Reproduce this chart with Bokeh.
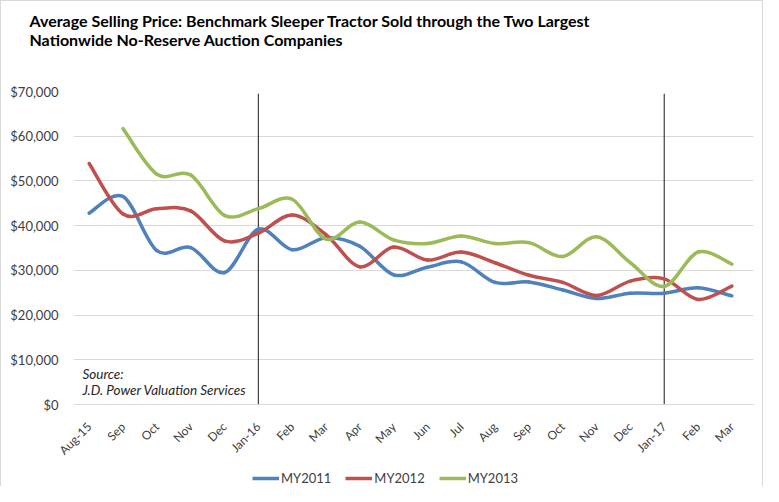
import numpy as np
from bokeh.plotting import figure
from bokeh.layouts import column
from bokeh.models import (FixedTicker, NumeralTickFormatter, Legend, LegendItem,
                          Label, ColumnDataSource, Range1d)
from bokeh.embed import file_html
from bokeh.resources import INLINE

months = ["Aug-15", "Sep", "Oct", "Nov", "Dec", "Jan-16", "Feb", "Mar", "Apr", "May",
          "Jun", "Jul", "Aug", "Sep", "Oct", "Nov", "Dec", "Jan-17", "Feb", "Mar"]
my2011 = [42800, 46500, 34400, 35100, 29500, 39200, 34600, 37300, 35400, 29000,
          30700, 31900, 27300, 27400, 25600, 23700, 24900, 24900, 26100, 24300]
my2012 = [53900, 42600, 43800, 43300, 36600, 38300, 42400, 38000, 30800, 35200,
          32300, 34100, 31700, 28900, 27300, 24400, 27600, 28100, 23500, 26500]
my2013 = [None, 61700, 51500, 51300, 42300, 43800, 45900, 37000, 40800, 36800,
          36000, 37700, 36000, 36200, 33100, 37500, 31700, 26400, 34100, 31400]
series_names = ["MY2011", "MY2012", "MY2013"]
series_colors = ["#4f81bd", "#c0504d", "#9bbb59"]
marker_months = ["Jan-16", "Jan-17"]
y_ticks = list(range(0, 70001, 10000))
title_lines = ["Average Selling Price: Benchmark Sleeper Tractor Sold through the Two Largest",
               "Nationwide No-Reserve Auction Companies"]
source_lines = ["Source:", "J.D. Power Valuation Services"]

FONT = "Lato"
W = 761


def smooth_source(vals):
    """Bezier segments (Excel-style smoothed line) through the data points."""
    xs = [i for i, v in enumerate(vals) if v is not None]
    ys = [v for v in vals if v is not None]
    n = len(xs)
    d = {k: [] for k in ["x0", "y0", "x1", "y1", "cx0", "cy0", "cx1", "cy1"]}
    for i in range(n - 1):
        a = max(i - 1, 0)
        b = min(i + 2, n - 1)
        d["x0"].append(xs[i]); d["y0"].append(ys[i])
        d["x1"].append(xs[i + 1]); d["y1"].append(ys[i + 1])
        d["cx0"].append(xs[i] + (xs[i + 1] - xs[a]) / 6.0)
        d["cy0"].append(ys[i] + (ys[i + 1] - ys[a]) / 6.0)
        d["cx1"].append(xs[i + 1] - (xs[b] - xs[i]) / 6.0)
        d["cy1"].append(ys[i + 1] - (ys[b] - ys[i]) / 6.0)
    return ColumnDataSource(d)


def bare(fig):
    fig.outline_line_color = None
    fig.background_fill_color = "white"
    fig.border_fill_color = "white"
    fig.xgrid.grid_line_color = None
    fig.ygrid.grid_line_color = None
    return fig


# ---------------- header (title) ----------------
head = bare(figure(width=W, height=80, output_backend="svg", toolbar_location=None,
                   x_range=Range1d(0, 1), y_range=Range1d(0, 1),
                   x_axis_location=None, y_axis_location=None, min_border=0))
head.title.text = "\n".join(title_lines)
head.title.text_font = FONT
head.title.text_font_size = "16px"
head.title.text_font_style = "bold"
head.title.text_color = "black"
head.title.align = "left"
head.title.offset = -44
head.title.standoff = 14

# ---------------- main chart ----------------
p = bare(figure(width=W, height=384, output_backend="svg", toolbar_location=None,
                x_range=Range1d(-0.464, 19.64), y_range=Range1d(0, 70000),
                min_border_left=72, min_border_right=9, min_border_top=10,
                min_border_bottom=61))
p.ygrid.grid_line_color = "#d9d9d9"
p.ygrid.grid_line_width = 1

yax = p.yaxis[0]
yax.ticker = FixedTicker(ticks=y_ticks)
yax.formatter = NumeralTickFormatter(format="$0,0")
yax.axis_line_color = None
yax.major_tick_line_color = None
yax.minor_tick_line_color = None
yax.major_label_standoff = 9
yax.major_label_text_font = FONT
yax.major_label_text_font_size = "13px"
yax.major_label_text_color = "#404040"

xax = p.xaxis[0]
xax.ticker = FixedTicker(ticks=list(range(len(months))))
xax.major_label_overrides = {i: m for i, m in enumerate(months)}
xax.major_label_orientation = np.pi / 4
xax.axis_line_color = "#d9d9d9"
xax.major_tick_line_color = None
xax.minor_tick_line_color = None
xax.major_label_standoff = 14
xax.major_label_text_font = FONT
xax.major_label_text_font_size = "12px"
xax.major_label_text_color = "#404040"

# vertical year markers
mx = [months.index(m) for m in marker_months]
p.segment(x0=mx, x1=mx, y0=[0] * len(mx), y1=[69500] * len(mx),
          line_color="#1a1a1a", line_width=1)

for vals, color in zip([my2011, my2012, my2013], series_colors):
    src = smooth_source(vals)
    p.bezier(x0="x0", y0="y0", x1="x1", y1="y1", cx0="cx0", cy0="cy0",
             cx1="cx1", cy1="cy1", source=src, line_color=color,
             line_width=3.5, line_cap="round")

# source note
for y, line in zip([6900, 3300], source_lines):
    p.add_layout(Label(x=-0.2, y=y, text=line, text_font=FONT,
                       text_font_size="13.5px", text_font_style="italic",
                       text_color="#262626", text_baseline="middle"))

# ---------------- legend strip ----------------
leg = bare(figure(width=W, height=21, output_backend="svg", toolbar_location=None,
                  x_range=Range1d(0, 1), y_range=Range1d(0, 1),
                  x_axis_location=None, y_axis_location=None, min_border=0))
proxies = [leg.line(x=list(range(len(months))), y=vals, line_color=c, line_width=3.5,
                    visible=False)
           for vals, c in zip([my2011, my2012, my2013], series_colors)]
legend = Legend(items=[LegendItem(label=n, renderers=[r])
                       for n, r in zip(series_names, proxies)],
                orientation="horizontal", location=(179, 0))
legend.padding = 0
legend.margin = 0
legend.spacing = 14
legend.glyph_width = 27
legend.glyph_height = 14
legend.label_height = 14
legend.label_standoff = 2
legend.border_line_color = None
legend.background_fill_alpha = 0
legend.label_text_font = FONT
legend.label_text_font_size = "13px"
legend.label_text_color = "#404040"
leg.add_layout(legend, "center")

page = column(head, p, leg, spacing=0)
page.styles = {"border-top": "1px solid #d9d9d9", "border-left": "1px solid #d9d9d9",
               "border-right": "1px solid #d9d9d9"}

open("out.html", "w").write(file_html(page, INLINE))
